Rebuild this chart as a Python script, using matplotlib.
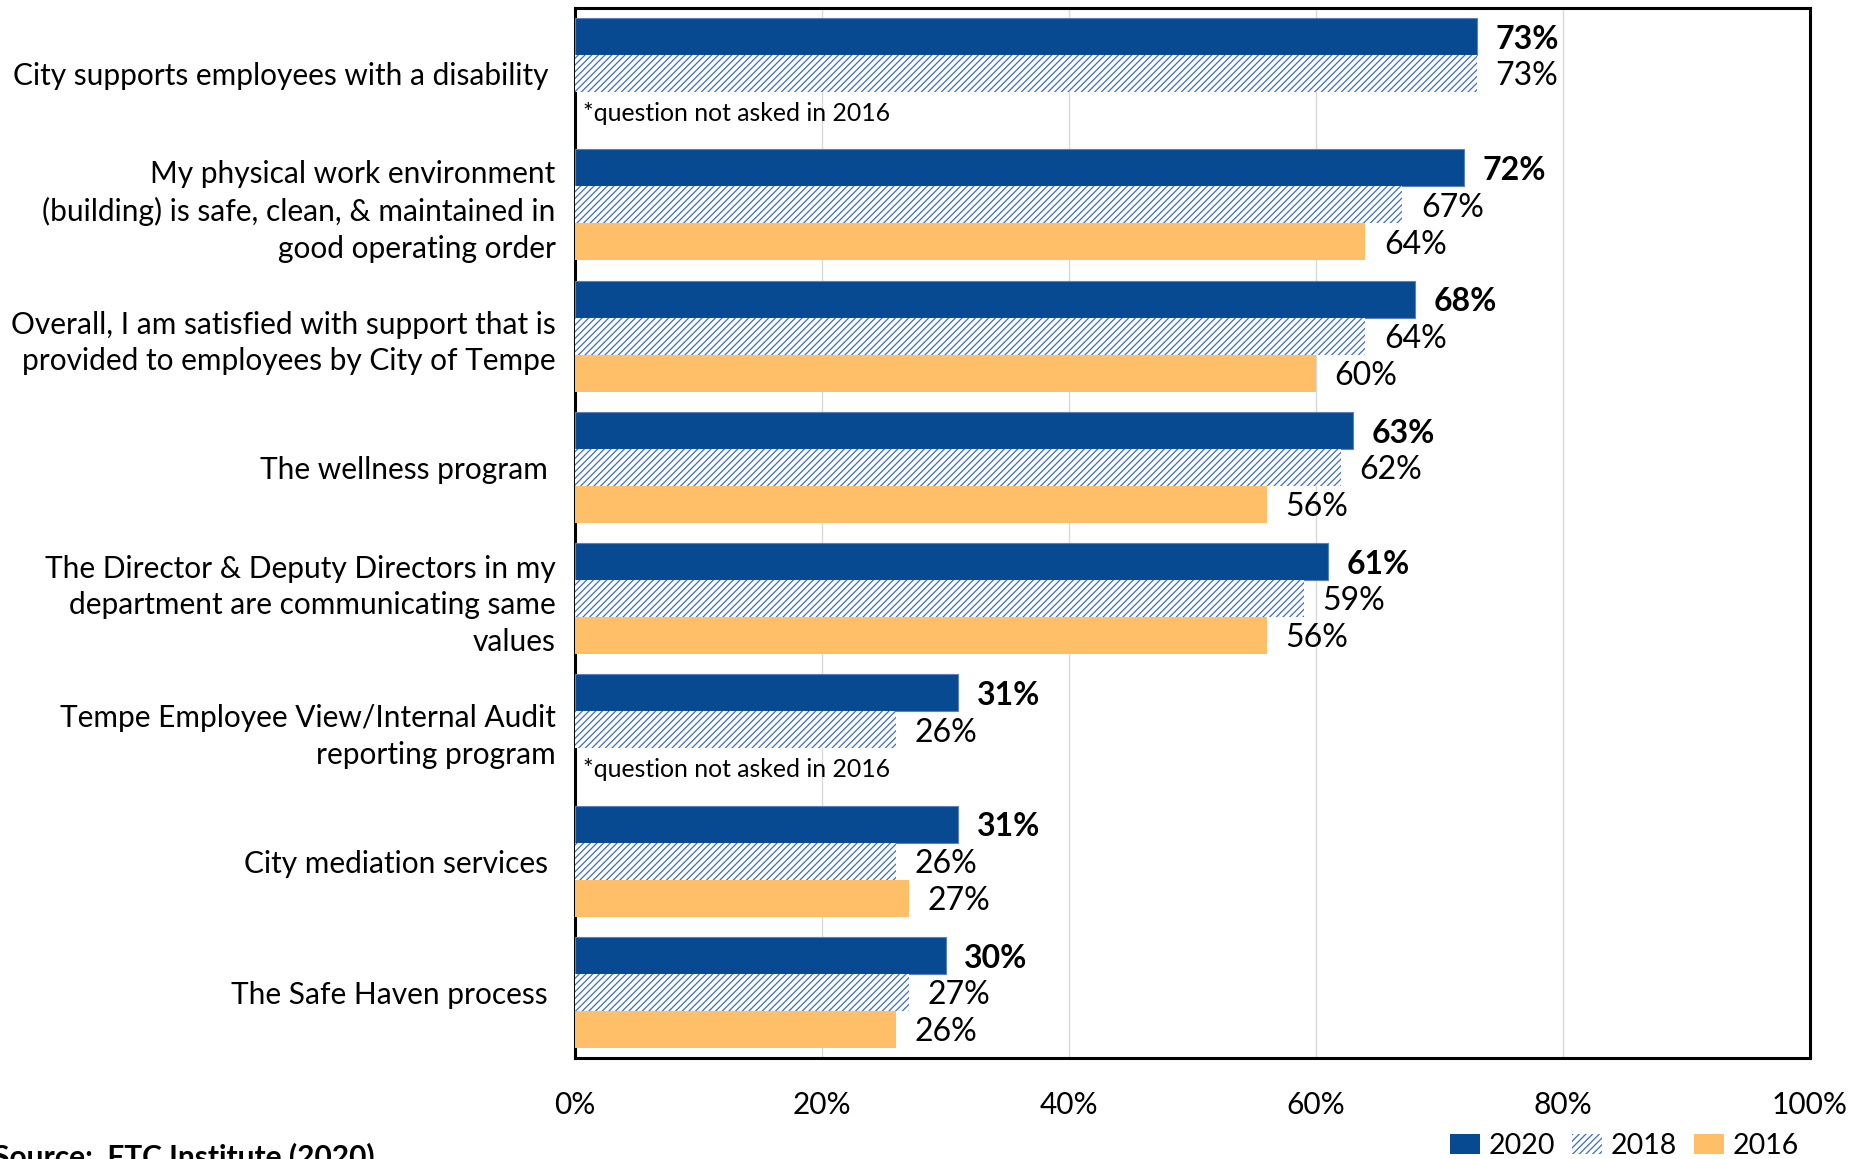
import matplotlib.pyplot as plt
import matplotlib.patches as mpatches
import numpy as np

plt.rcParams['font.family'] = ['Lato', 'DejaVu Sans']
plt.rcParams['hatch.linewidth'] = 0.9

questions = [
    "City supports employees with a disability ",
    "My physical work environment\n(building) is safe, clean, & maintained in\ngood operating order",
    "Overall, I am satisfied with support that is\nprovided to employees by City of Tempe",
    "The wellness program ",
    "The Director & Deputy Directors in my\ndepartment are communicating same\nvalues",
    "Tempe Employee View/Internal Audit\nreporting program",
    "City mediation services ",
    "The Safe Haven process ",
]
y2020 = [73, 72, 68, 63, 61, 31, 31, 30]
y2018 = [73, 67, 64, 62, 59, 26, 26, 27]
y2016 = [None, 64, 60, 56, 56, None, 27, 26]
ticks = [0, 20, 40, 60, 80, 100]
note = "*question not asked in 2016"

c2020 = '#074A91'
c2018 = '#3A6BD1'
c2016 = '#FFBF69'

fig = plt.figure(figsize=(18.69, 11.59), dpi=100)
ax = fig.add_axes([0.3077, 0.0871, 0.6607, 0.906])

pos = np.arange(len(questions))
h = 0.282
fs = 21.5
vfs = 23

ax.barh(pos - h, y2020, height=h, color=c2020, edgecolor='#5B7FBF', linewidth=0.8, zorder=3)
ax.barh(pos, y2018, height=h, color='white', edgecolor=c2018, hatch='/////', linewidth=0, zorder=3)
for i, v in enumerate(y2016):
    if v is not None:
        ax.barh(pos[i] + h, v, height=h, color=c2016, linewidth=0, zorder=3)
    else:
        ax.text(0.6, pos[i] + h + 0.02, note, va='center', ha='left', fontsize=17.8, zorder=4)

for i in range(len(questions)):
    ax.text(y2020[i] + 1.5, pos[i] - h + 0.02, f"{y2020[i]}%", va='center', ha='left',
            fontsize=vfs, fontweight='bold')
    ax.text(y2018[i] + 1.5, pos[i] + 0.02, f"{y2018[i]}%", va='center', ha='left', fontsize=vfs)
    if y2016[i] is not None:
        ax.text(y2016[i] + 1.5, pos[i] + h + 0.02, f"{y2016[i]}%", va='center', ha='left',
                fontsize=vfs)

ax.set_xlim(0, 100)
ax.set_ylim(len(questions) - 0.5, -0.5)
ax.set_xticks(ticks)
ax.set_xticklabels([f"{t}%" for t in ticks], fontsize=fs)
ax.set_yticks(pos)
ax.set_yticklabels(questions, fontsize=fs, linespacing=1.36)
ax.tick_params(axis='both', length=0)
ax.tick_params(axis='x', pad=24)
ax.tick_params(axis='y', pad=14)
ax.xaxis.grid(True, color='#D9D9D9', linewidth=1, zorder=0)
ax.set_axisbelow(True)
for s in ax.spines.values():
    s.set_linewidth(2.2)
    s.set_color('black')

handles = [
    mpatches.Patch(facecolor=c2020, label='2020'),
    mpatches.Patch(facecolor='white', edgecolor=c2018, hatch='/////', linewidth=0, label='2018'),
    mpatches.Patch(facecolor=c2016, label='2016'),
]
fig.legend(handles=handles, loc='lower right', bbox_to_anchor=(0.976, -0.022), ncol=3,
           frameon=False, fontsize=20.5, handlelength=1.05, handleheight=0.75,
           handletextpad=0.3, columnspacing=0.6)

fig.text(-0.004, -0.006, "Source:  FTC Institute (2020)", fontsize=fs, fontweight='bold',
         ha='left', va='baseline')

fig.savefig('out.png', dpi=100)
